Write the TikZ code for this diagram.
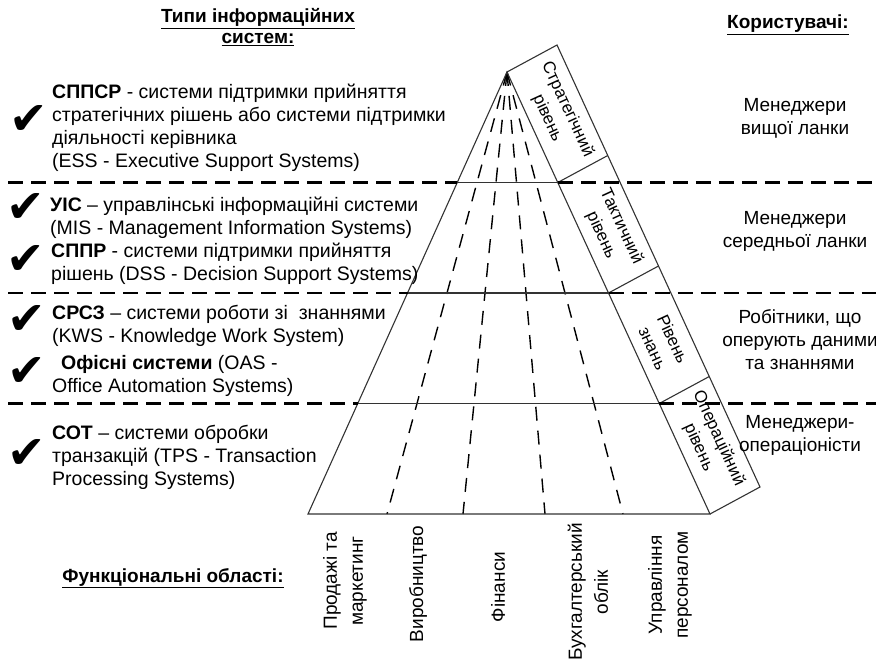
\documentclass[tikz,border=0pt]{standalone}
\usepackage{fontspec}
\setmainfont{Liberation Sans}
\newfontfamily\tickfont{DejaVu Sans}
\usetikzlibrary{calc}

\begin{document}
\begin{tikzpicture}[x=1pt, y=-1pt,
  side/.style={draw=black!80, line width=1.1pt},
  bigdash/.style={line width=2.4pt, dash pattern=on 15pt off 8pt},
  smalldash/.style={line width=1.4pt, dash pattern=on 14pt off 10pt},
  txt/.style={anchor=north west, align=left, inner sep=0pt, font=\fontsize{19.5}{23}\selectfont},
  usr/.style={align=center, font=\fontsize{19}{23}\selectfont},
  lvl/.style={align=center, inner sep=0pt, rotate=-65.3, font=\fontsize{17}{22}\selectfont},
  area/.style={align=center, rotate=90, font=\fontsize{19}{26}\selectfont},
  head/.style={align=center, font=\bfseries\fontsize{19}{21}\selectfont},
  tick/.style={inner sep=0pt, font=\tickfont\fontsize{46}{46}\selectfont}]
\useasboundingbox (0,0) rectangle (876,662);
% Pyramid
\coordinate (top) at (507,72);
\coordinate (bl) at (308,514);
\coordinate (br) at (710,514);
\foreach \i/\f in {1/0.25,2/0.5,3/0.75} {
  \coordinate (l\i) at ($(top)!\f!(bl)$);
  \coordinate (r\i) at ($(top)!\f!(br)$);
}
\foreach \i/\x in {1/387,2/463,3/545,4/623} {
  \coordinate (b\i) at (\x,514);
  \draw[smalldash] (top) -- (b\i);
}
\draw[side] (bl) -- (top) -- (br) -- cycle;
\foreach \i in {1,2,3} {
  \draw[side] (l\i) -- (r\i);
  \draw[side] (r\i) -- ++(50,-27);
  \draw[bigdash] (8,0 |- l\i) -- (l\i);
  \draw[bigdash] (r\i) -- (876,0 |- r\i);
}
% Levels strip
\draw[side] (top) -- ++(50,-27) coordinate (st) -- ($(br)+(50,-27)$) coordinate (sb) -- (br);
\node[lvl] (v1) at ($(top)!0.125!(br)+(25,-13.5)$) {Стратегічний\\рівень};
\node[lvl] (v2) at ($(top)!0.39!(br)+(25,-13.5)$) {Тактичний\\рівень};
\node[lvl] (v3) at ($(top)!0.645!(br)+(25,-13.5)$) {Рівень\\знань};
\node[lvl] (v4) at ($(top)!0.87!(br)+(25,-13.5)$) {Операційний\\рівень};
% Headings
\node[head] (h1) at (258,27) {\underline{Типи інформаційних}\\\underline{систем:}};
\node[head] (h2) at (788,25) {\underline{Користувачі:}};
\node[head] (h3) at (173,578) {\underline{Функціональні області:}};
% Types of systems
\node[tick] (t1) at (29,120) {✔};
\node[tick] (t2) at (26,208) {✔};
\node[tick] (t3) at (26,260) {✔};
\node[tick] (t4) at (27,320) {✔};
\node[tick] (t5) at (27,372) {✔};
\node[tick] (t6) at (27,454) {✔};
\node[txt] (s1) at (52,84) {\textbf{СППСР} - системи підтримки прийняття\\стратегічних рішень або системи підтримки\\діяльності керівника\\(ESS - Executive Support Systems)};
\node[txt] (s2) at (50,197) {\textbf{УІС} – управлінські інформаційні системи\\(MIS - Management Information Systems)};
\node[txt] (s3) at (51,243) {\textbf{СППР} - системи підтримки прийняття\\рішень (DSS - Decision Support Systems)};
\node[txt] (s4) at (52,305) {\textbf{СРСЗ} – системи роботи зі\ \ знаннями\\(KWS - Knowledge Work System)};
\node[txt] (s5) at (52,355) {\hspace*{9pt}\textbf{Офісні системи} (OAS -\\Office Automation Systems)};
\node[txt] (s6) at (52,425) {\textbf{СОТ} – системи обробки\\транзакцій (TPS - Transaction\\Processing Systems)};
% Users
\node[usr] (u1) at (795,118) {Менеджери\\вищої ланки};
\node[usr] (u2) at (795,231) {Менеджери\\середньої ланки};
\node[usr] (u3) at (800,340) {Робітники, що\\оперують даними\\та знаннями};
\node[usr] (u4) at (800,435) {Менеджери-\\операціоністи};
% Functional areas
\node[area] (a1) at (345,581) {Продажі та\\маркетинг};
\node[area] (a2) at (418,584) {Виробництво};
\node[area] (a3) at (498,587) {Фінанси};
\node[area] (a4) at (588,592) {Бухгалтерський\\облік};
\node[area] (a5) at (670,585) {Управління\\персоналом};
\end{tikzpicture}
\end{document}
